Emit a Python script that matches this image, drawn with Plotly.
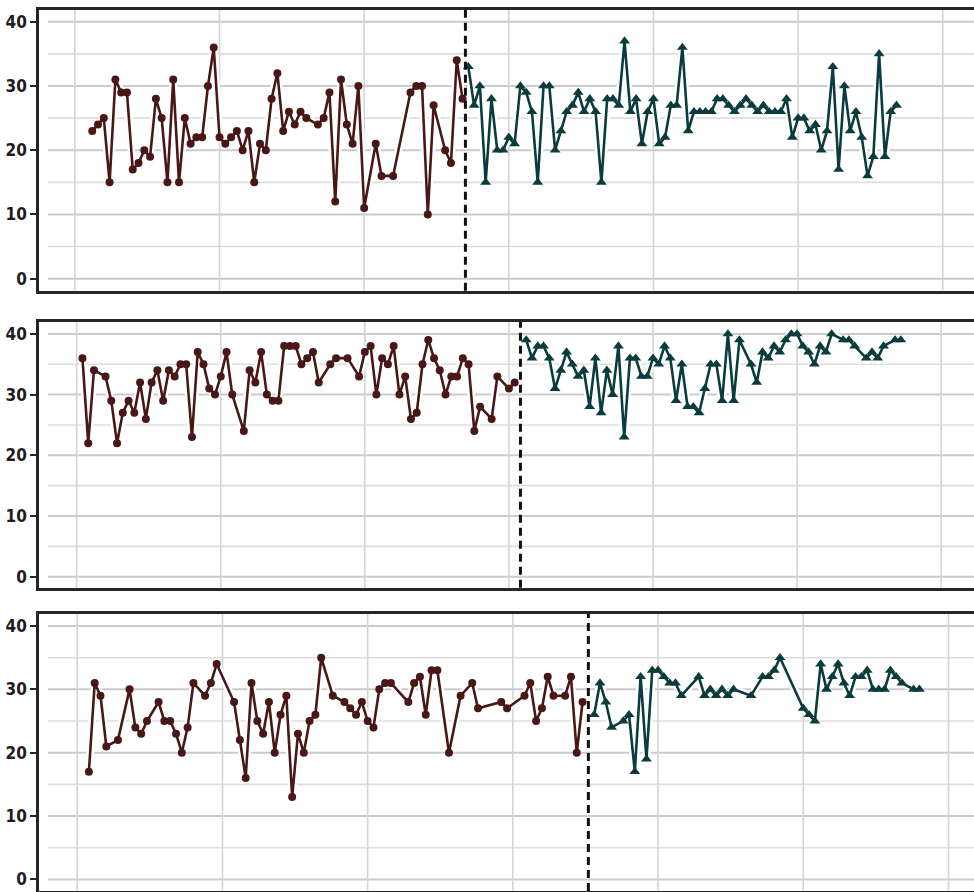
import plotly.graph_objects as go

# ---------------- data (index, value) ----------------
p1_a_x = [3,4,5,6,7,8,9,10,11,12,13,14,15,16,17,18,19,20,21,22,23,24,25,26,27,28,29,30,31,32,33,34,35,36,37,38,39,40,
          42,43,44,45,46,47,48,49,50,52,53,55,58,59,60,61,62,64,65,66,67]
p1_a_y = [23,24,25,15,31,29,29,17,18,20,19,28,25,15,31,15,25,21,22,22,30,36,22,21,22,23,20,23,15,21,20,28,32,23,26,24,26,25,
          24,25,29,12,31,24,21,30,11,21,16,16,29,30,30,10,27,20,18,34,28]
p1_b_x = list(range(68, 143))
p1_b_y = [33,27,30,15,28,20,20,22,21,30, 29,26,15,30,30,20,23,26,27,29, 26,28,26,15,28,28,27,37,26,28,
          21,26,28,21,22,27,27,36,23,26, 26,26,26,28,28,27,26,27,28,27, 26,27,26,26,26,28,22,25,25,23,
          24,20,23,33,17,30,23,26,22,16, 19,35,19,26,27]

p2_a_x = [1,2,3,5,6,7,8,9,10,11,12,13,14,15,16,17,18,19,20,21,22,23,24,25,26,27,29,30,31,32,33,34,35,36,37,38,39,40,41,42,
          44,45,47,49,50,51,52,53,54,55,56,57,58,59,60,61,62,63,64,65,66,67,68,69,70,72,73,75,76]
p2_a_y = [36,22,34,33,29,22,27,29,27,32,26,32,34,29,34,33,35,35,23,37,35,31,30,33,37,30,24,34,32,37,30,29,29,38,38,38,35,36,37,32,
          35,36,36,33,37,38,30,36,35,38,30,33,26,27,35,39,36,34,30,33,33,36,35,24,28,26,33,31,32]
p2_b_x = [78,79,80,81,82,83,84,85,86,87,88,89,90,91,92,93,94,95,96,97,98,99,100,101,102,103,104,105,106,107,108,109,110,111,112,113,114,115,
          117,118,119,120,121,122,123,124,125,126,127,128,129,130,131,133,134,135,137,138,139,140,142,143]
p2_b_y = [39,36,38,38,36,31,34,37,35,33,34,28,36,27,34,30,38,23,36,36,33,33,36,35,38,36,29,35,28,28,27,31,35,35,29,40,29,39,
          35,32,37,36,38,37,39,40,40,38,37,35,38,37,40,39,39,38,36,37,36,38,39,39]

p3_a_x = [2,3,4,5,7,9,10,11,12,14,15,16,17,18,19,20,22,23,24,27,28,29,30,31,32,33,34,35,36,37,38,39,40,41,42,44,
          46,47,48,49,50,51,52,53,54,57,58,59,60,61,62,64,66,68,69,73,74,77,78,79,80,81,82,84,85,86,87]
p3_a_y = [17,31,29,21,22,30,24,23,25,28,25,25,23,20,24,31,29,31,34,28,22,16,31,25,23,28,20,26,29,13,23,20,25,26,35,29,
          28,27,26,28,25,24,30,31,31,28,31,32,26,33,33,20,29,31,27,28,27,29,31,25,27,32,29,29,32,20,28]
p3_b_x = [89,90,91,92,94,95,96,97,98,99,100,101,102,103,104,107,108,109,110,111,112,113,116,118,119,120,121,
          125,126,127,128,129,130,131,132,133,134,135,136,137,138,139,140,141,142,144,145]
p3_b_y = [26,31,28,24,25,26,17,32,19,33,33,32,31,31,29,32,29,30,29,30,29,30,29,32,32,33,35,
          27,26,25,34,30,32,34,31,29,32,32,33,30,30,30,33,32,31,30,30]

change_points = [67.5, 77, 88]
y_ticks = [0, 10, 20, 30, 40]
y_minor = [5, 15, 25, 35]
x_grid = [0, 25, 50, 75, 100, 125, 150]

panels = [
    (p1_a_x, p1_a_y, p1_b_x, p1_b_y),
    (p2_a_x, p2_a_y, p2_b_x, p2_b_y),
    (p3_a_x, p3_a_y, p3_b_x, p3_b_y),
]

# ---------------- style / layout ----------------
BROWN = "#4a1717"
TEAL = "#0b3c3d"
AXIS = "#262626"
W, H = 974, 892
L = 39
y_domains = [(0.6741, 0.9893), (0.3411, 0.6393), (0.0012, 0.3117)]
y_ranges = [(-1.87, 41.9), (-1.81, 42.0), (-1.81, 41.9)]
x_ranges = [(-6.2, 155.4), (-6.54, 155.7), (-6.59, 154.4)]

fig = go.Figure()
shapes = []
tick_font = dict(family="DejaVu Sans Condensed, Liberation Sans Narrow, Arial Narrow, sans-serif",
                 size=17, color="#1c1c1c", weight="bold")

for i, (ax, ay, bx, by) in enumerate(panels):
    n = "" if i == 0 else str(i + 1)
    xa, ya = "x" + n, "y" + n
    for xs, ys, col, sym, ms in [(ax, ay, BROWN, "circle", 8), (bx, by, TEAL, "triangle-up", 9.5)]:
        fig.add_trace(go.Scatter(x=xs, y=ys, mode="lines", xaxis=xa, yaxis=ya,
                                 line=dict(color="white", width=7.5), hoverinfo="skip", showlegend=False))
        fig.add_trace(go.Scatter(x=xs, y=ys, mode="lines+markers", xaxis=xa, yaxis=ya,
                                 line=dict(color=col, width=2.6),
                                 marker=dict(symbol=sym, size=ms, color=col),
                                 showlegend=False))
    fig.layout["xaxis" + n] = dict(domain=[0, 1], range=list(x_ranges[i]), anchor=ya,
                                   showgrid=False, zeroline=False, showticklabels=False, ticks="",
                                   showline=True, mirror=True, linecolor=AXIS, linewidth=2.6)
    fig.layout["yaxis" + n] = dict(domain=list(y_domains[i]), range=list(y_ranges[i]), anchor=xa,
                                   showgrid=False, zeroline=False, tickvals=y_ticks,
                                   ticks="outside", ticklen=6, tickwidth=2.2, tickcolor=AXIS,
                                   tickfont=tick_font, showline=True, linecolor=AXIS, linewidth=2.6)
    gx = (48 - L) / (W - L)
    for v in y_ticks:
        shapes.append(dict(type="line", layer="below", xref=xa + " domain", x0=gx, x1=1, yref=ya, y0=v, y1=v,
                           line=dict(color="#cbcbcb", width=2)))
    for v in y_minor:
        shapes.append(dict(type="line", layer="below", xref=xa + " domain", x0=gx, x1=1, yref=ya, y0=v, y1=v,
                           line=dict(color="#dedede", width=1.6)))
    for v in x_grid:
        shapes.append(dict(type="line", layer="below", xref=xa, x0=v, x1=v, yref=ya + " domain", y0=0, y1=1,
                           line=dict(color="#d4d4d4", width=1.6)))
    shapes.append(dict(type="line", layer="above", xref=xa, x0=change_points[i], x1=change_points[i],
                       yref=ya + " domain", y0=0, y1=1, line=dict(color="#111111", width=3, dash="8px,5px")))

fig.update_layout(width=W, height=H, margin=dict(l=L, r=0, t=0, b=0),
                  paper_bgcolor="white", plot_bgcolor="white", shapes=shapes, showlegend=False)

fig.write_html("out.html", config={"displayModeBar": False},
               post_script="document.body.style.margin='0';document.body.style.overflow='hidden';")
